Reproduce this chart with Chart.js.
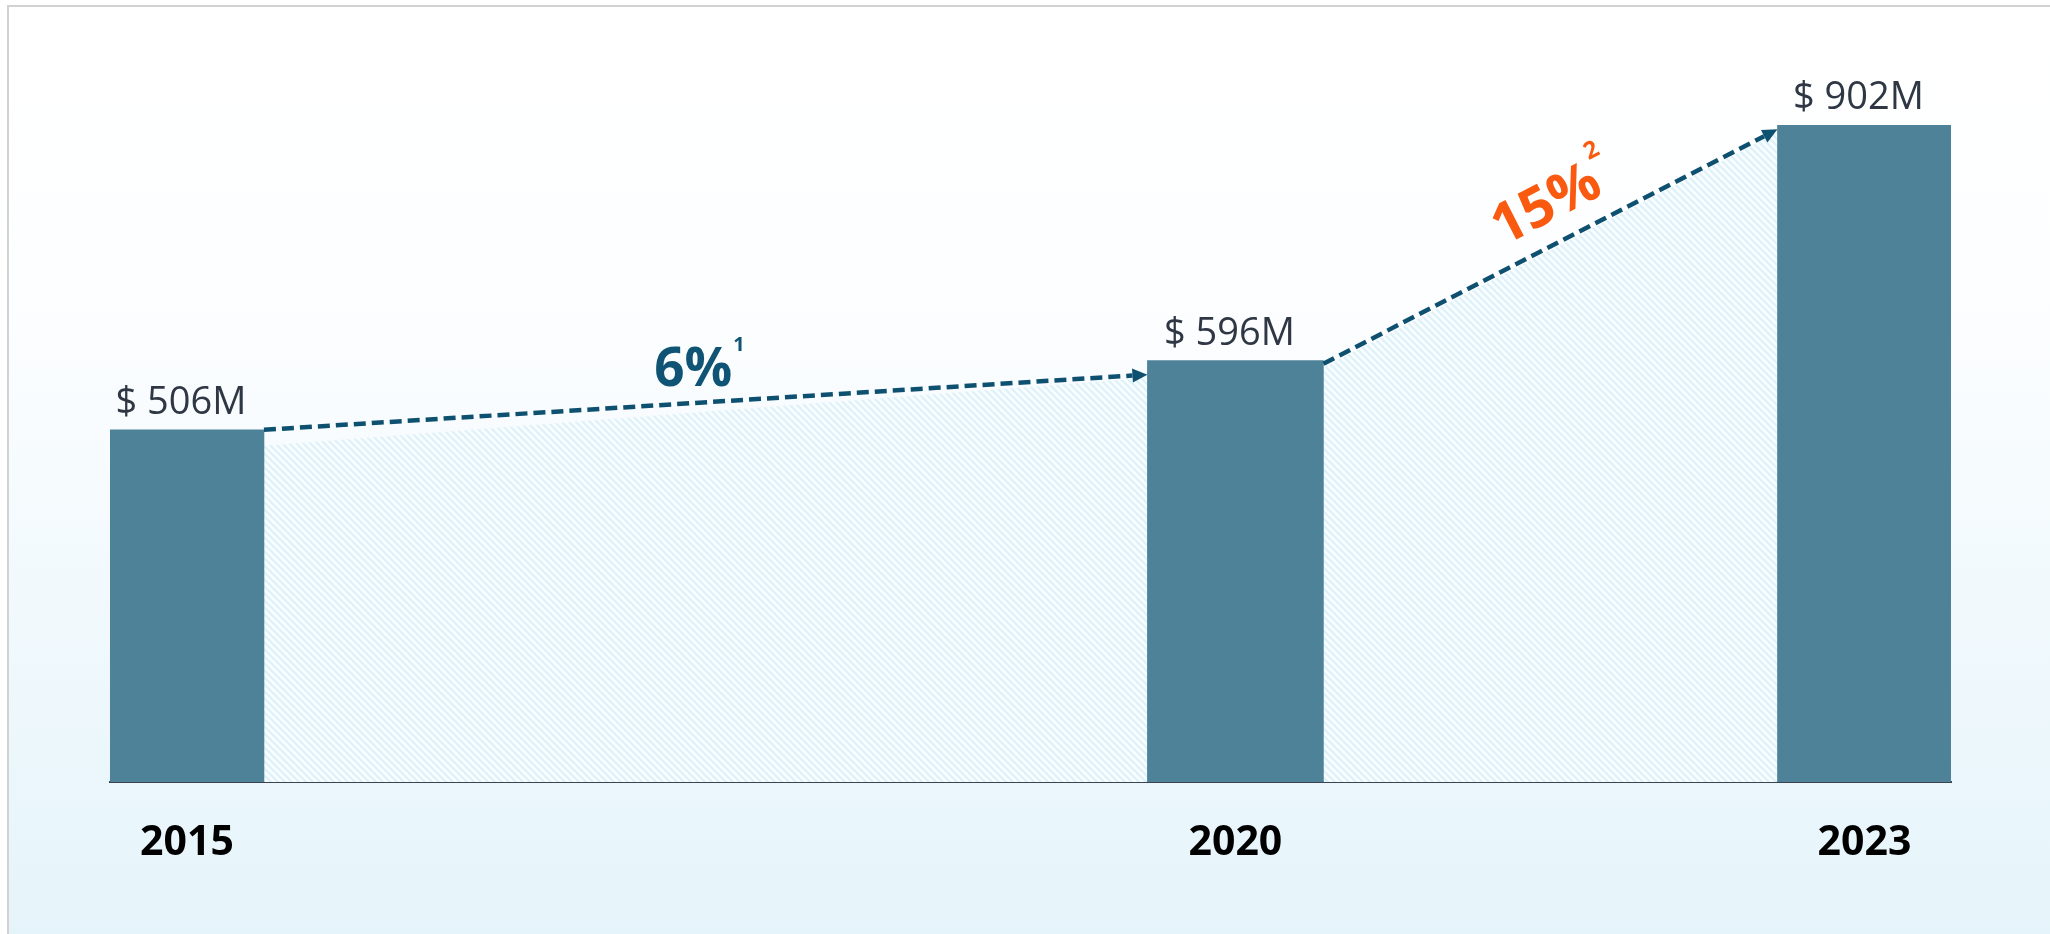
<!DOCTYPE html>
<html>
<head>
<meta charset="utf-8">
<script src="https://cdn.jsdelivr.net/npm/chart.js@4.4.0/dist/chart.umd.min.js"></script>
<style>
html,body{margin:0;padding:0;background:#fff;overflow:hidden}
canvas{display:block}
</style>
</head>
<body>
<canvas id="c" width="2050" height="934"></canvas>
<script>
// ---------------- data ----------------
const years = [2015, 2020, 2023];
const revenueM = [506, 596, 902];
const growthRates = ['6%', '15%'];
const growthNotes = ['1', '2'];

// ---------------- style ----------------
const FONT = '"Open Sans", "Noto Sans", sans-serif';
const BAR_COLOR = '#4e8299';
const BAR_WIDTHS = [154, 176, 174];
const LINE_COLOR = '#0e5070';
const GROWTH_COLORS = ['#0f5474', '#fa5a10'];
const GROWTH_ROTATE = [false, true];
const GROWTH_T = [0.486, 0.53];
const GROWTH_OFF = [17, 22];
const GROWTH_SIZE = [53, 56];
const SUP_SIZE = [20, 24];
const START_OFF = [0, 3];
const END_OFF = [14, 4];
const HATCH_START_OFF = [16, 4];

function makeHatch(ctx) {
  const p = document.createElement('canvas');
  p.width = 7; p.height = 7;
  const g = p.getContext('2d');
  g.fillStyle = '#fbfeff';
  g.fillRect(0, 0, 7, 7);
  g.strokeStyle = '#e0f2f9';
  g.lineWidth = 2.6;
  g.beginPath();
  g.moveTo(-1, -1); g.lineTo(8, 8);
  g.moveTo(-1, 6); g.lineTo(8, 15);
  g.moveTo(6, -1); g.lineTo(15, 8);
  g.stroke();
  return ctx.createPattern(p, 'repeat');
}

function barBox(chart, i) {
  const el = chart.getDatasetMeta(i).data[0];
  return {x: el.x, top: el.y, w: el.width,
          left: el.x - el.width / 2, right: el.x + el.width / 2};
}
function gapLine(chart, i) {
  const a = barBox(chart, i), b = barBox(chart, i + 1);
  return {x1: a.right, y1: a.top + START_OFF[i], x2: b.left, y2: b.top + END_OFF[i],
          base: chart.chartArea.bottom};
}

const bgPlugin = {
  id: 'bg',
  beforeDraw(chart) {
    const {ctx, width, height} = chart;
    ctx.save();
    ctx.fillStyle = '#ffffff';
    ctx.fillRect(0, 0, width, height);
    const g = ctx.createLinearGradient(0, 0, 0, height);
    g.addColorStop(0, '#ffffff');
    g.addColorStop(0.3, '#fdfeff');
    g.addColorStop(1, '#e5f4fa');
    ctx.fillStyle = g;
    ctx.fillRect(8, 6, width - 8, height - 6);
    ctx.strokeStyle = '#d2d2d2';
    ctx.lineWidth = 2;
    ctx.beginPath();
    ctx.moveTo(8, height); ctx.lineTo(8, 6); ctx.lineTo(width, 6);
    ctx.stroke();
    ctx.restore();
  }
};

const hatchPlugin = {
  id: 'hatch',
  beforeDatasetsDraw(chart) {
    const ctx = chart.ctx;
    const pat = makeHatch(ctx);
    ctx.save();
    for (let i = 0; i < years.length - 1; i++) {
      const L = gapLine(chart, i);
      ctx.beginPath();
      ctx.moveTo(L.x1, L.y1 + HATCH_START_OFF[i]);
      ctx.lineTo(L.x2, L.y2 + 3);
      ctx.lineTo(L.x2, L.base);
      ctx.lineTo(L.x1, L.base);
      ctx.closePath();
      ctx.fillStyle = pat;
      ctx.fill();
    }
    ctx.restore();
  }
};

const annotPlugin = {
  id: 'annot',
  afterDatasetsDraw(chart) {
    const ctx = chart.ctx;
    ctx.save();
    ctx.font = '38px ' + FONT;
    ctx.fillStyle = '#2f3744';
    ctx.textAlign = 'center';
    ctx.textBaseline = 'alphabetic';
    for (let i = 0; i < years.length; i++) {
      const b = barBox(chart, i);
      ctx.fillText('$ ' + revenueM[i] + 'M', b.x - 6, b.top - 16);
    }
    ctx.restore();

    for (let i = 0; i < years.length - 1; i++) {
      const L = gapLine(chart, i);
      const ang = Math.atan2(L.y2 - L.y1, L.x2 - L.x1);
      const head = 15, hw = 7;
      const ex = L.x2 - Math.cos(ang) * head, ey = L.y2 - Math.sin(ang) * head;
      ctx.save();
      ctx.strokeStyle = LINE_COLOR;
      ctx.lineWidth = 4.5;
      ctx.setLineDash([12, 6]);
      ctx.beginPath();
      ctx.moveTo(L.x1, L.y1);
      ctx.lineTo(ex, ey);
      ctx.stroke();
      ctx.setLineDash([]);
      ctx.fillStyle = LINE_COLOR;
      ctx.beginPath();
      ctx.moveTo(L.x2, L.y2);
      ctx.lineTo(ex - Math.sin(ang) * hw, ey + Math.cos(ang) * hw);
      ctx.lineTo(ex + Math.sin(ang) * hw, ey - Math.cos(ang) * hw);
      ctx.closePath();
      ctx.fill();
      ctx.restore();

      const t = GROWTH_T[i];
      const px = L.x1 + (L.x2 - L.x1) * t, py = L.y1 + (L.y2 - L.y1) * t;
      const size = GROWTH_SIZE[i];
      ctx.save();
      ctx.translate(px, py);
      if (GROWTH_ROTATE[i]) ctx.rotate(ang);
      ctx.fillStyle = GROWTH_COLORS[i];
      ctx.font = 'bold ' + size + 'px ' + FONT;
      ctx.textAlign = 'center';
      ctx.textBaseline = 'alphabetic';
      ctx.fillText(growthRates[i], 0, -GROWTH_OFF[i]);
      const w = ctx.measureText(growthRates[i]).width;
      ctx.font = 'bold ' + SUP_SIZE[i] + 'px ' + FONT;
      ctx.textAlign = 'left';
      ctx.fillText(growthNotes[i], w / 2 + 1, -GROWTH_OFF[i] - size * 0.66);
      ctx.restore();
    }
  }
};

function draw() {
  const datasets = years.map((yr, i) => ({
    data: [{x: yr, y: revenueM[i]}],
    backgroundColor: BAR_COLOR,
    borderWidth: 0,
    barThickness: BAR_WIDTHS[i],
    grouped: false
  }));
  new Chart(document.getElementById('c'), {
    type: 'bar',
    data: {datasets},
    options: {
      responsive: false,
      animation: false,
      events: [],
      layout: {padding: {left: 110, right: 99, top: 50, bottom: 0}},
      plugins: {legend: {display: false}, tooltip: {enabled: false}, title: {display: false}},
      scales: {
        x: {
          type: 'linear',
          offset: false,
          min: 2014.633,
          max: 2023.4125,
          z: 1,
          grid: {display: false, drawTicks: false},
          border: {display: true, color: '#3a434e', width: 2},
          afterBuildTicks: (scale) => { scale.ticks = years.map(v => ({value: v})); },
          afterFit: (scale) => { scale.height = 152; },
          ticks: {
            callback: (v) => String(v),
            color: '#000000',
            padding: 37,
            maxRotation: 0,
            autoSkip: false,
            font: {family: FONT, weight: 'bold', size: 41}
          }
        },
        y: {display: false, min: 48, max: 1000}
      }
    },
    plugins: [bgPlugin, hatchPlugin, annotPlugin]
  });
}

Promise.all([
  document.fonts.load('38px "Open Sans"'),
  document.fonts.load('bold 41px "Open Sans"')
]).then(draw, draw);
</script>
</body>
</html>
